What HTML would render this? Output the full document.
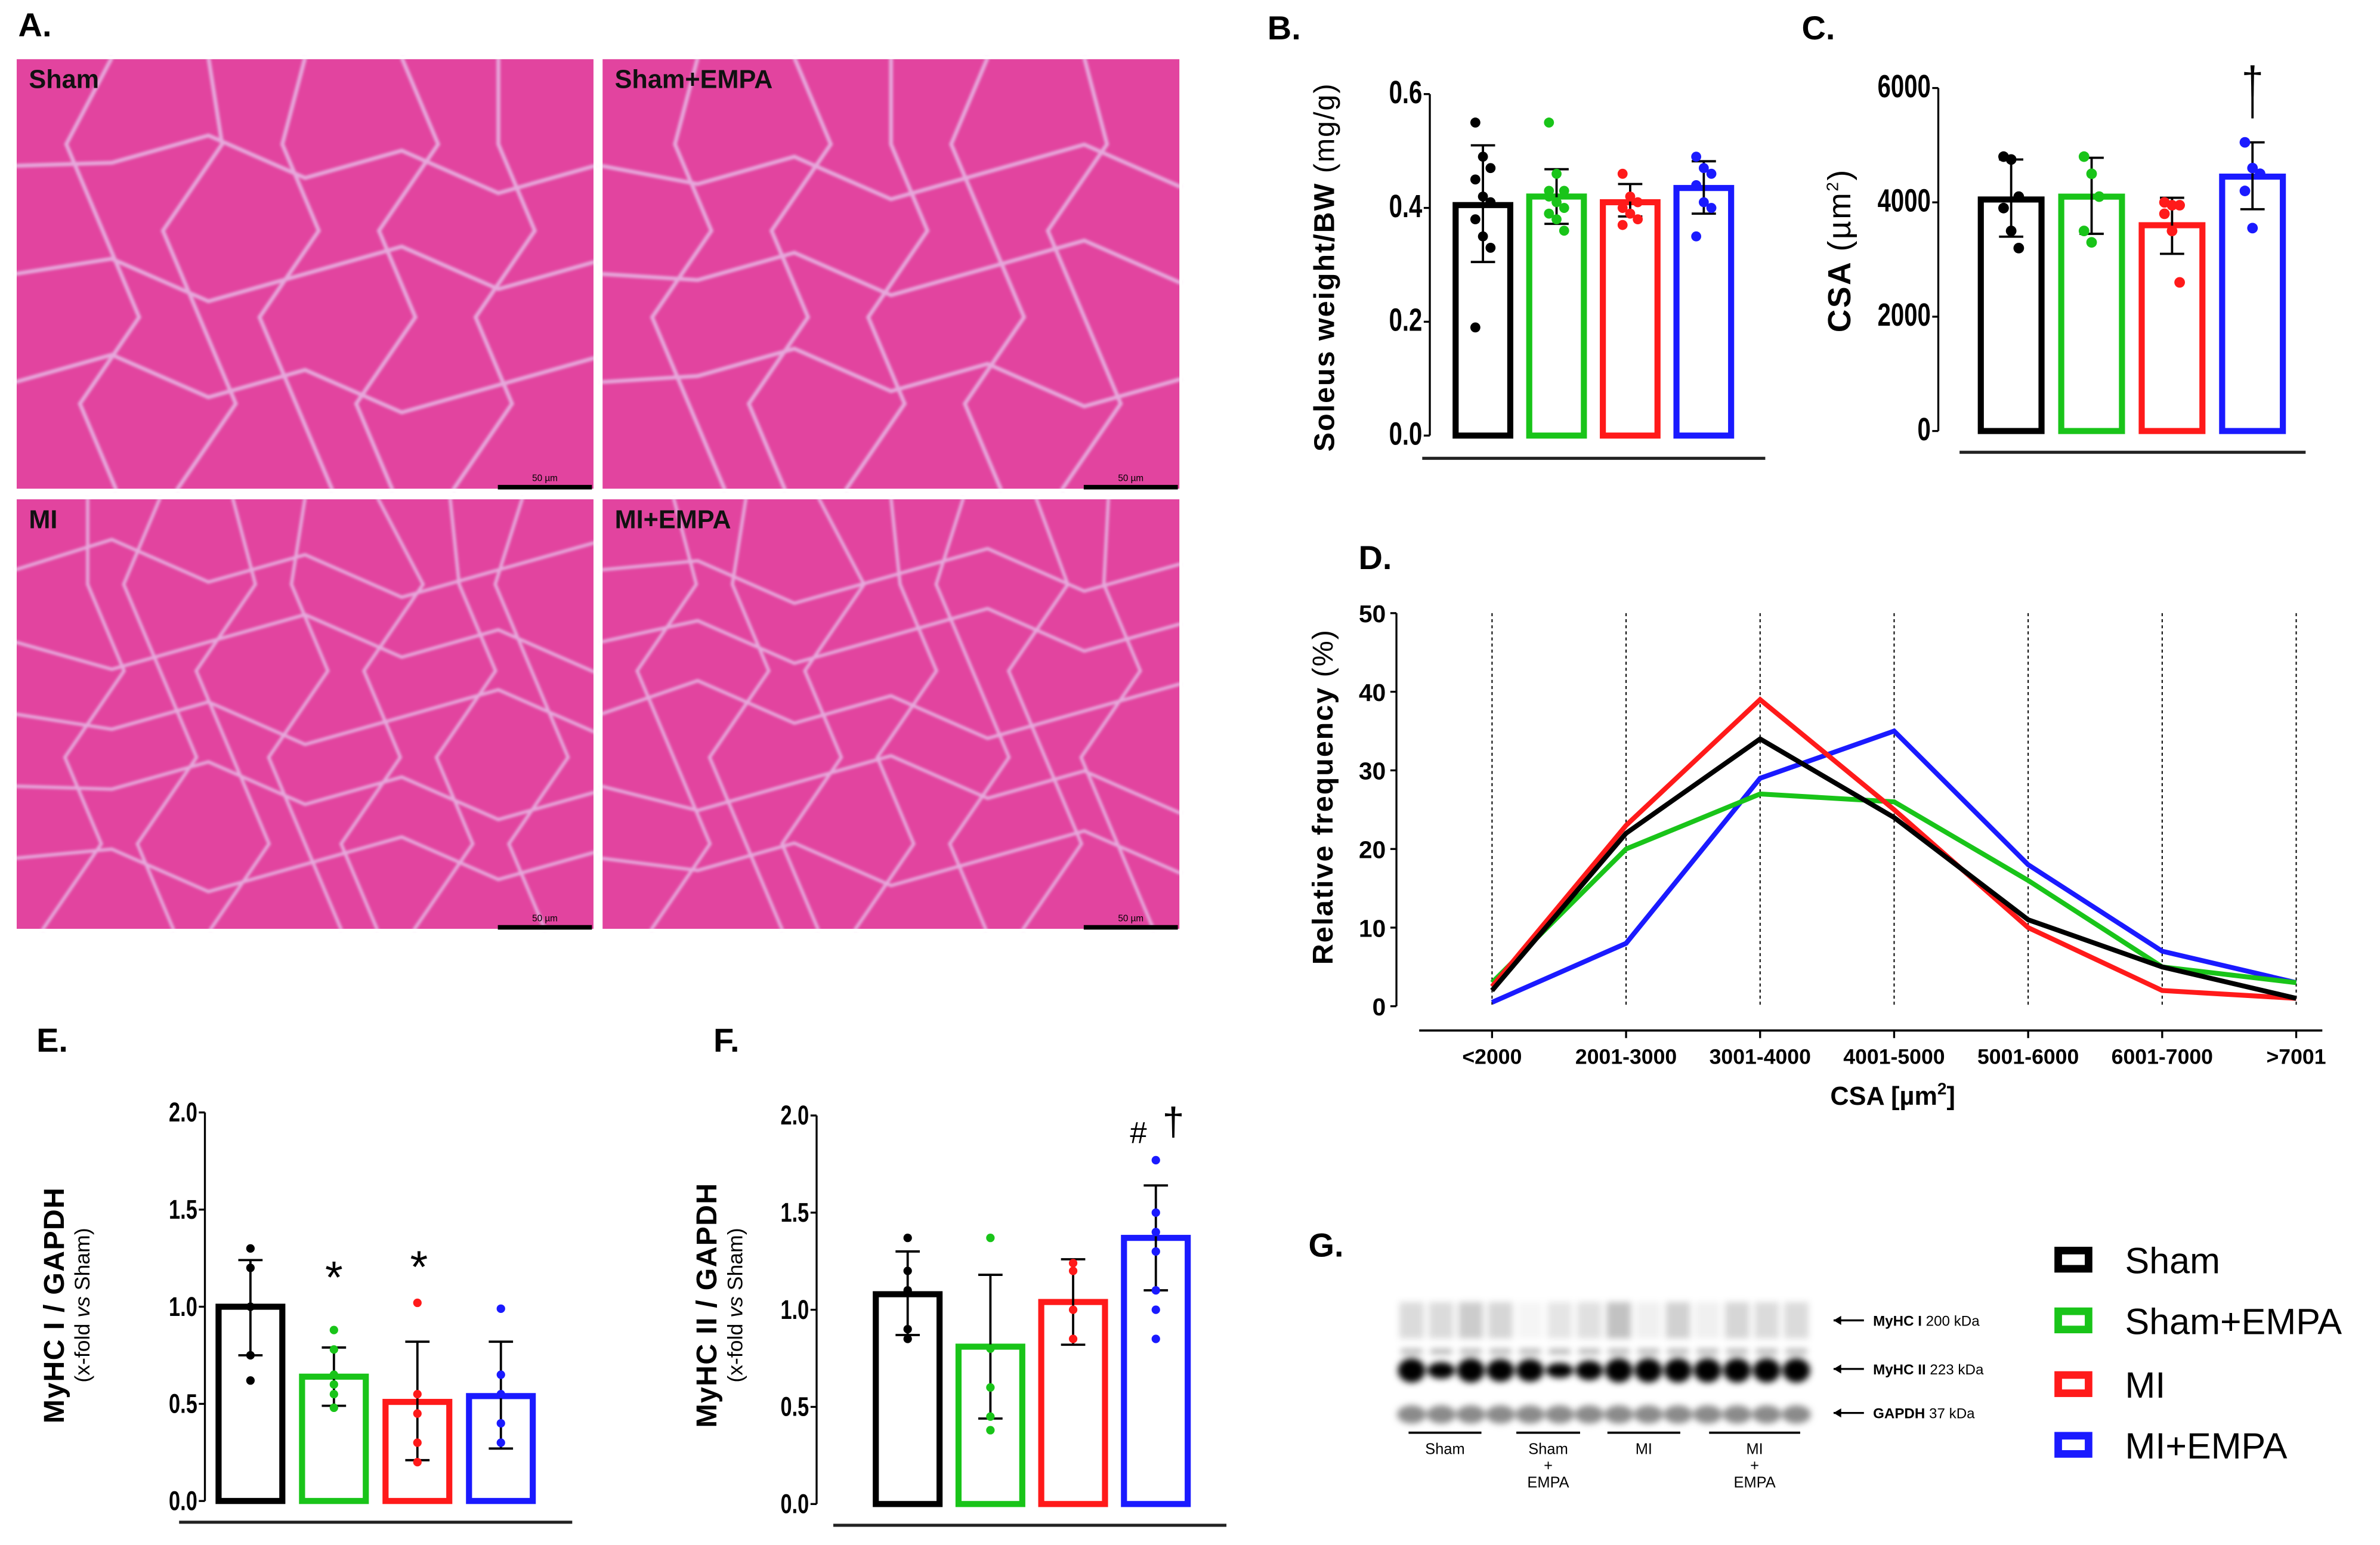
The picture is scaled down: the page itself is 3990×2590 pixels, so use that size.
<!DOCTYPE html>
<html><head><meta charset="utf-8"><style>
html,body{margin:0;padding:0;background:#fff}
svg{display:block}
text{font-family:"Liberation Sans",Arial,sans-serif}
</style></head><body>
<svg id="fig" width="3990" height="2590" viewBox="0 0 1568 1018" preserveAspectRatio="none" xmlns="http://www.w3.org/2000/svg">
<defs>
<filter id="blur1"><feGaussianBlur stdDeviation="2.2"/></filter>
<filter id="blur2"><feGaussianBlur stdDeviation="0.8"/></filter>
</defs>
<g id="panelA"></g>
<g id="panelB"></g>
<g id="panelC"></g>
<g id="panelD"></g>
<g id="panelE"></g>
<g id="panelF"></g>
<g id="panelG"></g>
<g id="legend"></g>
</svg>
<script>
const groups = ["Sham","Sham+EMPA","MI","MI+EMPA"];
const colors = ["#000000","#19c419","#ff1a1a","#1a1aff"];
// Panel B
const bMeans = [0.405,0.42,0.41,0.435];
const bLow = [0.305,0.372,0.385,0.39];
const bHigh = [0.51,0.468,0.442,0.482];
const bPoints = [[0.55,0.49,0.47,0.45,0.42,0.41,0.38,0.35,0.33,0.19],[0.55,0.46,0.43,0.42,0.41,0.40,0.39,0.38,0.36,0.43],[0.46,0.42,0.41,0.40,0.39,0.38,0.37],[0.49,0.47,0.46,0.44,0.41,0.40,0.35]];
const bTicks = [0,0.2,0.4,0.6];
// Panel C
const cMeans = [4050,4100,3600,4450];
const cLow = [3400,3450,3100,3880];
const cHigh = [4750,4780,4080,5050];
const cPoints = [[4800,4750,4100,3900,3500,3200],[4800,4500,4100,3500,3300],[4000,3950,3950,3800,3500,2600],[5050,4600,4500,4200,3550]];
const cTicks = [0,2000,4000,6000];
// Panel D
const dCats = ["<2000","2001-3000","3001-4000","4001-5000","5001-6000","6001-7000",">7001"];
const dSham = [2,22,34,24,11,5,1];
const dShamE = [3,20,27,26,16,5,3];
const dMI = [2.5,23,39,25,10,2,1];
const dMIE = [0.5,8,29,35,18,7,3];
const dTicks = [0,10,20,30,40,50];
// Panel E
const eMeans = [1.0,0.64,0.51,0.54];
const eLow = [0.75,0.49,0.21,0.27];
const eHigh = [1.24,0.79,0.82,0.82];
const ePoints = [[1.3,1.2,1.0,0.75,0.62],[0.88,0.78,0.65,0.6,0.55,0.48],[1.02,0.55,0.45,0.3,0.2],[0.99,0.65,0.55,0.4,0.3]];
const eTicks = [0,0.5,1.0,1.5,2.0];
// Panel F
const fMeans = [1.08,0.81,1.04,1.37];
const fLow = [0.87,0.44,0.82,1.10];
const fHigh = [1.30,1.18,1.26,1.64];
const fPoints = [[1.37,1.2,1.1,0.9,0.85],[1.37,0.8,0.6,0.45,0.38],[1.24,1.2,1.0,0.85],[1.77,1.5,1.4,1.3,1.1,1.0,0.85]];
const fTicks = [0,0.5,1.0,1.5,2.0];

const NS="http://www.w3.org/2000/svg";
function mk(tag,attrs,parent,txt){const e=document.createElementNS(NS,tag);for(const k in attrs)e.setAttribute(k,attrs[k]);if(txt!==undefined)e.textContent=txt;parent.appendChild(e);return e;}

// ---------- Panel A ----------
const A=document.getElementById('panelA');
let t=mk('text',{x:12,y:24,'font-size':22,'font-weight':'bold'},A,'A.');


const tiles=[[10,38,'Sham'],[396,38,'Sham+EMPA'],[10,328,'MI'],[396,328,'MI+EMPA']];
tiles.forEach((tl,i)=>{
  const g=mk('g',{},A);
  
  
  mk('rect',{x:tl[0],y:tl[1],width:382,height:285,fill:'#e2449f'},g);
  const cg=mk('g',{stroke:'#e6a8dc','stroke-width':i<2?2.6:2.2,fill:'none',filter:'url(#blur2)'},g);
  const n=i<2?4:6;
  for(let r=1;r<n;r++){let d='M'+tl[0]+' '+(tl[1]+r*285/n);for(let c=1;c<=6;c++){d+=' L'+(tl[0]+c*382/6)+' '+(tl[1]+r*285/n+((c*37+r*19+i*7)%23-11)*2);}mk('path',{d:d},cg);}
  for(let c=1;c<n+2;c++){let d='M'+(tl[0]+c*382/(n+2))+' '+tl[1];for(let r=1;r<=5;r++){d+=' L'+(tl[0]+c*382/(n+2)+((r*29+c*13+i*5)%21-10)*3)+' '+(tl[1]+r*57);}mk('path',{d:d},cg);}
  mk('rect',{x:tl[0],y:tl[1],width:382,height:285,fill:'none',stroke:'#fff','stroke-width':2},g);
  const lb=mk('text',{x:tl[0]+9,y:tl[1]+20,'font-size':17,'font-weight':'bold',fill:'#111'},g,tl[2]);
  
  
  mk('line',{x1:tl[0]+318,x2:tl[0]+380,y1:tl[1]+283,y2:tl[1]+283,stroke:'#000','stroke-width':3},g);
  mk('text',{x:tl[0]+349,y:tl[1]+279,'font-size':6,'text-anchor':'middle'},g,'50 µm');
});

// ---------- bar chart helper ----------
function barChart(id,cfg){
  const G=document.getElementById(id);
  const ys=v=>cfg.y0-(v-cfg.min)/(cfg.max-cfg.min)*(cfg.y0-cfg.y1);
  let l=mk('text',{x:cfg.labX,y:cfg.labY,'font-size':22,'font-weight':'bold'},G,cfg.label);
  
  
  const ax=mk('g',{},G);
  
  
  mk('line',{x1:cfg.ax,x2:cfg.ax,y1:ys(cfg.ticks[0]),y2:ys(cfg.ticks[cfg.ticks.length-1]),stroke:'#000','stroke-width':1.3},ax);
  cfg.ticks.forEach(tv=>{
    mk('line',{x1:cfg.ax-4,x2:cfg.ax,y1:ys(tv),y2:ys(tv),stroke:'#000','stroke-width':1.3},ax);
    const tt=mk('text',{x:cfg.ax-5,y:ys(tv)+6,'font-size':cfg.tickFs,'font-weight':'bold','text-anchor':'end',transform:`translate(${cfg.ax-5},${ys(tv)}) scale(0.75,1) translate(${-(cfg.ax-5)},${-ys(tv)})`},ax,cfg.fmt(tv));
    
    
  });
  const yt=mk('text',{x:0,y:0,'font-size':cfg.titleFs,'font-weight':'bold','text-anchor':'middle','letter-spacing':cfg.ls||0,transform:`translate(${cfg.titleX},${cfg.titleY}) rotate(-90)`},G);
  
  
  cfg.title.forEach(s=>{const ts=mk('tspan',s.a||{},yt,s.t);});
  if(cfg.sub){const st=mk('text',{x:0,y:0,'font-size':14,'text-anchor':'middle',transform:`translate(${cfg.titleX+17},${cfg.titleY}) rotate(-90)`},G);st.innerHTML=cfg.sub;
    
    }
  const bl=mk('line',{x1:cfg.lineX1,x2:cfg.lineX2,y1:cfg.lineY,y2:cfg.lineY,stroke:'#222','stroke-width':2},G);
  
  
  cfg.means.forEach((m,i)=>{
    const cx=cfg.cx0+i*cfg.dx, w=cfg.bw;
    const bg=mk('g',{},G);
    
    
    mk('rect',{x:cx-w/2,y:ys(m),width:w,height:ys(cfg.min)-ys(m),fill:'none',stroke:colors[i],'stroke-width':4},bg);
    mk('line',{x1:cx,x2:cx,y1:ys(cfg.low[i]),y2:ys(cfg.high[i]),stroke:'#000','stroke-width':1.5},bg);
    [cfg.low[i],cfg.high[i]].forEach(v=>mk('line',{x1:cx-8,x2:cx+8,y1:ys(v),y2:ys(v),stroke:'#000','stroke-width':1.5},bg));
    cfg.pts[i].forEach((v,j)=>{
      const off=cfg.jit?((j%3)-1)*5:0;
      const p=mk('circle',{cx:cx+off,cy:ys(v),r:cfg.pr,fill:colors[i]},bg);
      
      
    });
  });
  return {G,ys};
}
const fmt1=v=>v.toFixed(1);
barChart('panelB',{y0:287,y1:62,min:0,max:0.6,ax:942,ticks:bTicks,fmt:fmt1,tickFs:21,label:'B.',labX:835,labY:26,
  title:[{t:'Soleus weight/BW '},{t:'(mg/g)',a:{'font-weight':'normal'}}],titleX:879,titleY:176,titleFs:19,ls:0.8,
  lineX1:937,lineX2:1163,lineY:302,cx0:977,dx:48.5,bw:36,means:bMeans,low:bLow,high:bHigh,pts:bPoints,pr:3.3,jit:true});
const C=barChart('panelC',{y0:284,y1:58,min:0,max:6000,ax:1277,ticks:cTicks,fmt:v=>String(v),tickFs:21,label:'C.',labX:1187,labY:26,
  title:[{t:'CSA '},{t:'(µm',a:{'font-weight':'normal'}},{t:'2',a:{'font-weight':'normal','font-size':11,dy:-8}},{t:')',a:{'font-weight':'normal',dy:8}}],titleX:1219,titleY:165,titleFs:21,ls:1,
  lineX1:1291,lineX2:1519,lineY:298,cx0:1325,dx:53,bw:40,means:cMeans,low:cLow,high:cHigh,pts:cPoints,pr:3.5,jit:true});
mk('text',{x:1484,y:62,'font-size':26,'text-anchor':'middle'},C.G,'†');
mk('line',{x1:1484,x2:1484,y1:58,y2:78,stroke:'#000','stroke-width':1.5},C.G);
const E=barChart('panelE',{y0:989,y1:733,min:0,max:2,ax:135,ticks:eTicks,fmt:fmt1,tickFs:18,label:'E.',labX:24,labY:693,
  title:[{t:'MyHC I / GAPDH'}],titleX:42,titleY:860,titleFs:19,ls:0.5,sub:'(x-fold <tspan font-style="italic">vs</tspan> Sham)',
  lineX1:118,lineX2:377,lineY:1003,cx0:165,dx:55,bw:42,means:eMeans,low:eLow,high:eHigh,pts:ePoints,pr:2.8,jit:false});
mk('text',{x:220,y:852,'font-size':30,'text-anchor':'middle'},E.G,'*');
mk('text',{x:276,y:845,'font-size':30,'text-anchor':'middle'},E.G,'*');
const F=barChart('panelF',{y0:991,y1:735,min:0,max:2,ax:538,ticks:fTicks,fmt:fmt1,tickFs:18,label:'F.',labX:470,labY:693,
  title:[{t:'MyHC II / GAPDH'}],titleX:472,titleY:860,titleFs:19,ls:0.5,sub:'(x-fold <tspan font-style="italic">vs</tspan> Sham)',
  lineX1:549,lineX2:808,lineY:1005,cx0:598,dx:54.5,bw:42,means:fMeans,low:fLow,high:fHigh,pts:fPoints,pr:2.8,jit:false});
mk('text',{x:750,y:753,'font-size':20,'text-anchor':'middle'},F.G,'#');
mk('text',{x:773,y:748,'font-size':26,'text-anchor':'middle'},F.G,'†');

// ---------- Panel D ----------
(function(){
  const G=document.getElementById('panelD');
  const x0=983,dxc=88.3,y0=663,y1=404;
  const xs=i=>x0+i*dxc, ys=v=>y0-v/50*(y0-y1);
  let l=mk('text',{x:895,y:375,'font-size':22,'font-weight':'bold'},G,'D.');
  
  
  mk('line',{x1:920,x2:920,y1:ys(0),y2:ys(50),stroke:'#000','stroke-width':1.3},G);
  dTicks.forEach(v=>{
    mk('line',{x1:916,x2:920,y1:ys(v),y2:ys(v),stroke:'#000','stroke-width':1.3},G);
    const tt=mk('text',{x:913,y:ys(v)+6,'font-size':16,'font-weight':'bold','text-anchor':'end'},G,String(v));
    
    
  });
  mk('line',{x1:935,x2:1530,y1:679,y2:679,stroke:'#000','stroke-width':1.5},G);
  dCats.forEach((c,i)=>{
    mk('line',{x1:xs(i),x2:xs(i),y1:ys(50),y2:ys(0),stroke:'#000','stroke-width':0.8,'stroke-dasharray':'2,2'},G);
    mk('line',{x1:xs(i),x2:xs(i),y1:679,y2:684,stroke:'#000','stroke-width':1.3},G);
    const tt=mk('text',{x:xs(i),y:701,'font-size':14,'font-weight':'bold','text-anchor':'middle'},G,c);
    
    
  });
  const xt=mk('text',{x:1247,y:728,'font-size':17,'font-weight':'bold','text-anchor':'middle'},G);
  xt.innerHTML='CSA [µm<tspan font-size="11" dy="-7">2</tspan><tspan dy="7">]</tspan>';
  
  
  const yt=mk('text',{x:0,y:0,'font-size':19,'font-weight':'bold','text-anchor':'middle','letter-spacing':0.8,transform:'translate(878,525) rotate(-90)'},G);
  yt.innerHTML='Relative frequency  <tspan font-weight="normal">(%)</tspan>';
  
  
  const series=[dSham,dShamE,dMI,dMIE];
  const order=[3,1,2,0];
  order.forEach(k=>{
    const pts=series[k].map((v,i)=>xs(i)+','+ys(v)).join(' ');
    const pl=mk('polyline',{points:pts,fill:'none',stroke:colors[k],'stroke-width':3.2,'stroke-linejoin':'miter'},G);
    
    
  });
})();

// ---------- Panel G ----------
(function(){
  const G=document.getElementById('panelG');
  let l=mk('text',{x:862,y:828,'font-size':22,'font-weight':'bold'},G,'G.');
  
  
  const bl=mk('g',{filter:'url(#blur1)'},G);
  const lanes=14;
  const myh1=[0.35,0.35,0.5,0.4,0.1,0.25,0.3,0.6,0.15,0.45,0.15,0.4,0.35,0.35];
  const myh2=[1,0.5,1,0.9,0.9,0.4,0.7,1,1,1,1,1,1,1];
  for(let i=0;i<lanes;i++){
    const x=930+i*19.5;
    mk('rect',{x:x-8,y:858,width:16,height:24,fill:'#000',opacity:myh1[i]*0.4},bl);
    mk('rect',{x:x-7,y:889,width:14,height:3,fill:'#000',opacity:0.35},bl);
    mk('ellipse',{cx:x,cy:903,rx:9,ry:3+5*myh2[i],fill:'#000'},bl);
    mk('ellipse',{cx:x,cy:932,rx:9.5,ry:6,fill:'#8a8a8a'},bl);
  }
  [[928,976,'Sham',[]],[999,1041,'Sham','+','EMPA'],[1059,1107,'MI'],[1126,1186,'MI','+','EMPA']].forEach(s=>{
    mk('line',{x1:s[0],x2:s[1],y1:944,y2:944,stroke:'#000','stroke-width':1.5},G);
    const cx=(s[0]+s[1])/2;
    mk('text',{x:cx,y:958,'font-size':10,'text-anchor':'middle'},G,s[2]);
    if(s[3]==='+'){mk('text',{x:cx,y:969,'font-size':10,'text-anchor':'middle'},G,'+');mk('text',{x:cx,y:980,'font-size':10,'text-anchor':'middle'},G,'EMPA');}
  });
  [[870,'MyHC I','200 kDa'],[902,'MyHC II','223 kDa'],[931,'GAPDH','37 kDa']].forEach(r=>{
    mk('line',{x1:1208,x2:1228,y1:r[0],y2:r[0],stroke:'#000','stroke-width':1.3},G);
    mk('path',{d:`M1208 ${r[0]} l5 -3 v6 z`,fill:'#000'},G);
    const tt=mk('text',{x:1234,y:r[0]+3.5,'font-size':9.5},G);
    tt.innerHTML=`<tspan font-weight="bold">${r[1]}</tspan> ${r[2]}`;
    
    
  });
})();

// ---------- Legend ----------
(function(){
  const G=document.getElementById('legend');
  const ly=[830,870,912,952];
  groups.forEach((g,i)=>{
    const e=mk('g',{},G);
    
    
    mk('rect',{x:1356,y:ly[i]-6,width:20,height:12,fill:'none',stroke:colors[i],'stroke-width':5},e);
    mk('text',{x:1400,y:ly[i]+9,'font-size':24},e,g);
  });
})();
</script>
</body></html>
